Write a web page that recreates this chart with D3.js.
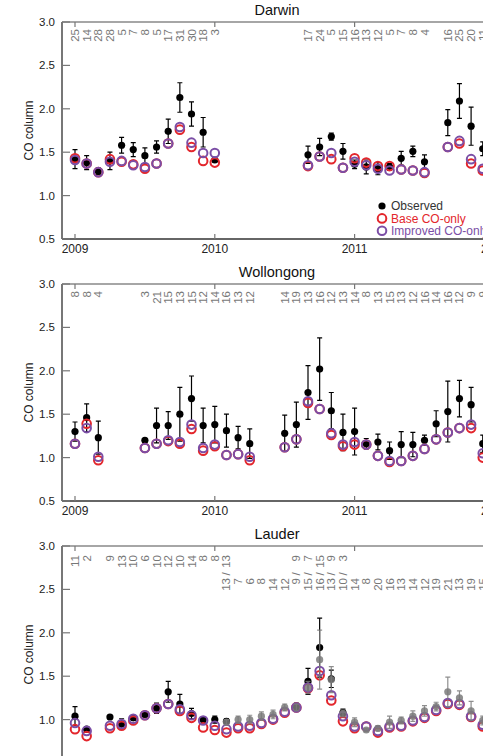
<!DOCTYPE html>
<html>
<head>
<meta charset="utf-8">
<script src="https://cdn.jsdelivr.net/npm/d3@7"></script>
<style>
  body { margin: 0; background: #fff; }
  text { font-family: "Liberation Sans", Arial, sans-serif; }
</style>
</head>
<body>
<div id="chart"></div>
<script>

// ---- data (month index 0 = Jan 2009) ----
const years = [2009, 2010, 2011, 2012]
const yTicks = [0.5, 1.0, 1.5, 2.0, 2.5, 3.0]
const legendLabels = ['Observed', 'Base CO-only', 'Improved CO-only']

const darwinMonths = [0,1,2,3,4,5,6,7,8,9,10,11,12, 20,21,22,23,24,25,26,27,28,29,30, 32,33,34,35]
const darwinObs  = [1.42,1.38,1.28,1.40,1.58,1.53,1.46,1.56,1.74,2.13,1.94,1.73,1.41, 1.47,1.56,1.68,1.51,1.36,1.33,1.31,1.33,1.43,1.51,1.39, 1.84,2.09,1.80,1.54]
const darwinErr  = [0.11,0.08,0.04,0.10,0.09,0.08,0.09,0.07,0.14,0.17,0.14,0.17,0.02, 0.10,0.10,0.04,0.09,0.05,0.08,0.07,0.04,0.08,0.06,0.08, 0.15,0.20,0.22,0.08]
const darwinBase = [1.43,1.37,1.27,1.42,1.39,1.36,1.31,1.37,1.60,1.76,1.56,1.40,1.38, 1.34,1.45,1.42,1.32,1.43,1.38,1.34,1.34,1.30,1.29,1.26, 1.56,1.60,1.37,1.29]
const darwinImp  = [1.41,1.37,1.27,1.39,1.40,1.35,1.33,1.37,1.60,1.79,1.61,1.49,1.49, 1.35,1.45,1.49,1.32,1.39,1.35,1.31,1.29,1.30,1.29,1.27, 1.56,1.63,1.42,1.31]
const darwinCounts = [25,14,28,28,5,7,8,5,17,31,30,18,3, 17,24,5,15,16,13,12,5,7,8,4, 16,25,20,11]

const wollMonths = [0,1,2, 6,7,8,9,10,11,12,13,14,15, 18,19,20,21,22,23,24,25,26,27,28,29,30,31,32,33,34,35]
const wollObs  = [1.30,1.46,1.23, 1.20,1.37,1.37,1.50,1.68,1.37,1.38,1.31,1.23,1.16, 1.28,1.38,1.75,2.02,1.54,1.29,1.30,1.16,1.18,1.08,1.15,1.15,1.20,1.39,1.53,1.68,1.61,1.16]
const wollErr  = [0.11,0.16,0.19, 0.02,0.20,0.16,0.31,0.26,0.20,0.21,0.19,0.13,0.17, 0.21,0.26,0.31,0.36,0.21,0.21,0.27,0.06,0.09,0.10,0.15,0.14,0.06,0.15,0.35,0.21,0.20,0.10]
const wollBase = [1.16,1.39,0.97, 1.11,1.16,1.19,1.16,1.33,1.08,1.13,1.03,1.04,0.97, 1.12,1.21,1.63,1.56,1.26,1.13,1.15,1.15,1.02,0.95,0.96,1.02,1.10,1.21,1.29,1.34,1.34,1.00]
const wollImp  = [1.16,1.34,1.01, 1.11,1.16,1.20,1.18,1.38,1.11,1.15,1.03,1.04,1.01, 1.12,1.21,1.65,1.56,1.28,1.15,1.18,1.15,1.02,0.96,0.96,1.02,1.10,1.21,1.29,1.34,1.38,1.05]
const wollCounts = [8,8,4, 3,21,15,13,15,12,14,16,13,12, 14,19,13,16,12,13,14,8,13,15,13,12,16,14,16,12,9,9]

const lauderMonths = [0,1,3,4,5,6,7,8,9,10,11,12,13,14,15,16,17,18,19,20,21,22,23,24,25,26,27,28,29,30,31,32,33,34,35]
const lauderBase = [0.89,0.81,0.90,0.93,0.99,1.05,1.13,1.18,1.10,1.02,0.91,0.88,0.85,0.90,0.90,0.95,1.00,1.08,1.14,1.36,1.51,1.22,0.98,0.90,0.92,0.85,0.91,0.92,0.98,1.02,1.10,1.18,1.17,1.03,0.92]
const lauderImp  = [0.96,0.87,0.93,0.95,1.01,1.05,1.13,1.18,1.12,1.05,0.99,0.93,0.89,0.92,0.93,0.96,1.01,1.09,1.14,1.37,1.56,1.28,1.04,0.92,0.92,0.87,0.92,0.93,0.99,1.03,1.11,1.19,1.18,1.04,0.94]
// first instrument (black)
const lauderBlackMonths = [0,1,3,4,5,6,7,8,9,10,11,12,13, 19,20,21,22,23]
const lauderBlackObs = [1.04,0.89,1.03,0.95,1.02,1.06,1.13,1.32,1.18,1.07,1.00,1.00,0.98, 1.15,1.44,1.83,1.47,1.08]
const lauderBlackErr = [0.11,0.03,0.02,0.06,0.03,0.03,0.06,0.12,0.11,0.06,0.03,0.04,0.03, 0.04,0.15,0.34,0.10,0.04]
const lauderBlackCounts = [11,2,9,13,10,6,10,12,10,14,8,8,13, 9,7,15,9,3]
// second instrument (grey)
const lauderGreyMonths = [13,14,15,16,17,18,19,20,21,22,23,24,25,26,27,28,29,30,31,32,33,34,35]
const lauderGreyObs = [0.97,1.00,1.00,1.04,1.06,1.14,1.14,1.37,1.69,1.46,1.07,0.97,0.88,0.90,0.97,0.99,1.04,1.10,1.15,1.32,1.25,1.10,0.99]
const lauderGreyErr = [0.03,0.04,0.05,0.05,0.05,0.04,0.04,0.07,0.34,0.15,0.04,0.05,0.02,0.03,0.07,0.04,0.06,0.06,0.05,0.17,0.08,0.11,0.05]
const lauderGreyCounts = [13,7,6,8,14,12,9,15,16,13,10,14,8,20,16,13,14,12,19,21,13,19,15]

const red = '#e3262c'
const purple = '#7b4ea6'
const grey = '#7a7a7a'

const W = 483, H = 756
const svg = d3.select('#chart').append('svg')
    .attr('width', W)
    .attr('height', H)

const x = d3.scaleLinear()
    .domain([2008.907, 2011.99])
    .range([62, 493])

const monthX = m => x(2009 + m / 12)

function zip(months, vals, errs) {
    return months.map((m, i) => ({m: m, v: vals[i], e: errs ? errs[i] : 0}))
}

function errPath(p, y) {
    const cx = monthX(p.m), y1 = y(p.v + p.e), y2 = y(p.v - p.e)
    return `M${cx},${y1}V${y2}M${cx - 2.5},${y1}H${cx + 2.5}M${cx - 2.5},${y2}H${cx + 2.5}`
}

function drawPanel(title, top, cfg) {
    const h = 217
    const y = d3.scaleLinear().domain([0.5, 3]).range([top + h, top])
    const g = svg.append('g')

    // title
    g.append('text')
        .attr('x', 277).attr('y', top - 7)
        .attr('text-anchor', 'middle')
        .style('font-size', '14.5px')
        .attr('fill', '#111')
        .text(title)

    // frame: top border, left axis, bottom axis
    g.append('line').attr('x1', 62).attr('x2', 493).attr('y1', top).attr('y2', top)
        .attr('stroke', '#888').attr('stroke-width', 1.5)
    g.append('line').attr('x1', 62).attr('x2', 62).attr('y1', top).attr('y2', top + h)
        .attr('stroke', '#777').attr('stroke-width', 2)
    g.append('line').attr('x1', 62).attr('x2', 493).attr('y1', top + h).attr('y2', top + h)
        .attr('stroke', '#666').attr('stroke-width', 2)

    // y ticks
    yTicks.forEach(t => {
        g.append('line').attr('x1', 62).attr('x2', 70).attr('y1', y(t)).attr('y2', y(t))
            .attr('stroke', '#777').attr('stroke-width', 1.2)
        g.append('text').attr('x', 55).attr('y', y(t) + 4)
            .attr('text-anchor', 'end')
            .style('font-size', '11.5px')
            .attr('fill', '#222')
            .text(t.toFixed(1))
    })

    // x ticks (bottom + top)
    years.forEach(yr => {
        g.append('line').attr('x1', x(yr)).attr('x2', x(yr)).attr('y1', top + h).attr('y2', top + h - 5)
            .attr('stroke', '#777').attr('stroke-width', 1.2)
        g.append('line').attr('x1', x(yr)).attr('x2', x(yr)).attr('y1', top).attr('y2', top + 5)
            .attr('stroke', '#777').attr('stroke-width', 1.2)
        g.append('text').attr('x', x(yr)).attr('y', top + h + 14)
            .attr('text-anchor', 'middle')
            .style('font-size', '12px')
            .attr('fill', '#222')
            .text(yr)
    })

    // y label
    g.append('text')
        .attr('transform', `translate(33, ${top + h / 2}) rotate(-90)`)
        .attr('text-anchor', 'middle')
        .style('font-size', '12px')
        .attr('fill', '#222')
        .text('CO column')

    // count labels
    cfg.counts.forEach(c => {
        c.months.forEach((m, i) => {
            g.append('text')
                .attr('transform', `translate(${monthX(m)}, ${top + c.offset}) rotate(-90)`)
                .attr('text-anchor', 'end')
                .attr('dy', '0.35em')
                .style('font-size', '11.5px')
                .attr('fill', '#777')
                .text(c.values[i])
        })
    })
    if (cfg.slashes) {
        cfg.slashes.forEach(m => {
            g.append('text')
                .attr('transform', `translate(${monthX(m)}, ${top + 28}) rotate(-90)`)
                .attr('text-anchor', 'middle')
                .attr('dy', '0.35em')
                .style('font-size', '11.5px')
                .attr('fill', '#777')
                .text('/')
        })
    }

    // observations
    cfg.obs.forEach(o => {
        const d = o.data
        g.selectAll(null).data(d.filter(p => p.e > 0)).enter().append('path')
            .attr('d', p => errPath(p, y))
            .attr('stroke', o.color)
            .attr('stroke-width', 1.2)
            .attr('fill', 'none')
        g.selectAll(null).data(d).enter().append('circle')
            .attr('cx', p => monthX(p.m))
            .attr('cy', p => y(p.v))
            .attr('r', 3.6)
            .attr('fill', o.color)
    })

    // model series
    cfg.models.forEach(s => {
        g.selectAll(null).data(s.data).enter().append('circle')
            .attr('cx', p => monthX(p.m))
            .attr('cy', p => y(p.v))
            .attr('r', 4.3)
            .attr('fill', 'none')
            .attr('stroke', s.color)
            .attr('stroke-width', 2)
    })

    // grey obs sits on top in Lauder
    if (cfg.topObs) {
        cfg.topObs.forEach(o => {
            const d = o.data
            g.selectAll(null).data(d).enter().append('path')
                .attr('d', p => errPath(p, y))
                .attr('stroke', o.color)
                .attr('stroke-width', 1.2)
                .attr('fill', 'none')
                .attr('opacity', 0.85)
            g.selectAll(null).data(d).enter().append('circle')
                .attr('cx', p => monthX(p.m))
                .attr('cy', p => y(p.v))
                .attr('r', 3.6)
                .attr('fill', o.color)
                .attr('opacity', 0.85)
        })
    }

    return y
}

// Darwin
drawPanel('Darwin', 22, {
    counts: [{months: darwinMonths, values: darwinCounts, offset: 7}],
    obs: [{data: zip(darwinMonths, darwinObs, darwinErr), color: '#000'}],
    models: [
        {data: zip(darwinMonths, darwinBase), color: red},
        {data: zip(darwinMonths, darwinImp), color: purple}
    ]
})

// legend (inside Darwin panel)
const legendColors = ['#000', red, purple]
legendLabels.forEach((l, i) => {
    const ly = 206 + i * 12.4
    if (i === 0) {
        svg.append('circle').attr('cx', 382).attr('cy', ly).attr('r', 3.6).attr('fill', '#000')
    } else {
        svg.append('circle').attr('cx', 382).attr('cy', ly).attr('r', 4.3)
            .attr('fill', 'none').attr('stroke', legendColors[i]).attr('stroke-width', 2)
    }
    svg.append('text').attr('x', 391).attr('y', ly + 4.2)
        .style('font-size', '12px')
        .attr('fill', i === 0 ? '#333' : legendColors[i])
        .text(l)
})

// Wollongong
drawPanel('Wollongong', 284, {
    counts: [{months: wollMonths, values: wollCounts, offset: 7}],
    obs: [{data: zip(wollMonths, wollObs, wollErr), color: '#000'}],
    models: [
        {data: zip(wollMonths, wollBase), color: red},
        {data: zip(wollMonths, wollImp), color: purple}
    ]
})

// Lauder
drawPanel('Lauder', 546, {
    counts: [
        {months: lauderBlackMonths, values: lauderBlackCounts, offset: 9},
        {months: lauderGreyMonths, values: lauderGreyCounts, offset: 32}
    ],
    slashes: [13, 19, 20, 21, 22, 23],
    obs: [{data: zip(lauderBlackMonths, lauderBlackObs, lauderBlackErr), color: '#000'}],
    models: [
        {data: zip(lauderMonths, lauderBase), color: red},
        {data: zip(lauderMonths, lauderImp), color: purple}
    ],
    topObs: [{data: zip(lauderGreyMonths, lauderGreyObs, lauderGreyErr), color: grey}]
})

</script>
</body>
</html>
